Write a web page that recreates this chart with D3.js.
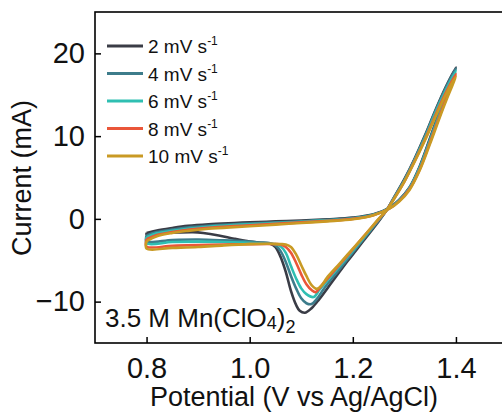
<!DOCTYPE html>
<html>
<head>
<meta charset="utf-8">
<style>
body { margin: 0; background: #fff; }
text { font-family: Arial, "Liberation Sans", sans-serif; fill: #111; }
</style>
</head>
<body>
<div id="chart"></div>
<script src="https://cdn.jsdelivr.net/npm/d3@7"></script>
<script>
// scan rates shown in the legend
var rates = ["2", "4", "6", "8", "10"];
var xTicks = [0.8, 1.0, 1.2, 1.4];
var yTicks = [-10, 0, 10, 20];

// [potential V, current mA], forward scan then reverse scan
var cv2 = [[0.80,-1.7],[0.82,-1.4],[0.85,-1.1],[0.88,-0.85],[0.92,-0.65],[0.97,-0.5],[1.00,-0.42],[1.05,-0.3],[1.10,-0.2],[1.15,-0.05],[1.20,0.15],[1.24,0.55],[1.27,1.3],[1.29,2.3],[1.31,3.8],[1.33,6.4],[1.35,9.8],[1.37,13.3],[1.385,15.9],[1.40,18.3],
  [1.38,15.9],[1.36,13.1],[1.34,10.1],[1.32,7.3],[1.30,4.8],[1.28,2.6],[1.265,1.0],[1.25,-0.3],[1.22,-2.7],[1.19,-5.1],[1.16,-7.6],[1.135,-9.7],[1.12,-10.8],[1.107,-11.35],[1.097,-11.1],[1.09,-10.4],[1.08,-8.7],[1.07,-6.4],[1.06,-4.6],[1.05,-3.4],[1.04,-3.0],[1.02,-2.9],[1.00,-2.75],[0.97,-2.4],[0.94,-2.0],[0.91,-1.7],[0.89,-1.6],[0.86,-1.65],[0.83,-1.75],[0.80,-1.9]];
var cv4 = [[0.80,-2.0],[0.82,-1.6],[0.85,-1.3],[0.88,-1.05],[0.92,-0.85],[0.97,-0.65],[1.00,-0.55],[1.05,-0.42],[1.10,-0.3],[1.15,-0.12],[1.20,0.1],[1.24,0.5],[1.27,1.3],[1.29,2.3],[1.31,3.8],[1.33,6.3],[1.35,9.7],[1.37,13.2],[1.385,15.8],[1.40,18.2],
  [1.38,15.8],[1.36,13.0],[1.34,10.0],[1.32,7.2],[1.30,4.7],[1.28,2.6],[1.265,1.0],[1.25,-0.2],[1.22,-2.5],[1.19,-4.85],[1.17,-6.4],[1.145,-8.35],[1.13,-9.7],[1.12,-10.3],[1.11,-10.2],[1.10,-9.6],[1.09,-8.4],[1.08,-6.9],[1.07,-5.2],[1.06,-3.9],[1.05,-3.2],[1.04,-2.95],[1.02,-2.85],[1.00,-2.75],[0.95,-2.6],[0.90,-2.5],[0.85,-2.55],[0.80,-2.7]];
var cv6 = [[0.80,-2.2],[0.82,-1.75],[0.85,-1.45],[0.88,-1.2],[0.92,-0.95],[0.97,-0.75],[1.00,-0.65],[1.05,-0.5],[1.10,-0.35],[1.15,-0.18],[1.20,0.05],[1.24,0.5],[1.27,1.25],[1.29,2.2],[1.31,3.7],[1.33,6.2],[1.35,9.5],[1.37,12.9],[1.385,15.5],[1.40,17.9],
  [1.38,15.5],[1.36,12.8],[1.34,9.8],[1.32,7.1],[1.30,4.6],[1.28,2.5],[1.265,1.0],[1.25,-0.1],[1.22,-2.35],[1.19,-4.6],[1.17,-6.05],[1.15,-7.5],[1.135,-8.6],[1.124,-9.45],[1.11,-9.1],[1.10,-8.4],[1.09,-7.2],[1.08,-5.7],[1.07,-4.1],[1.06,-3.3],[1.05,-3.05],[1.04,-3.0],[1.00,-2.9],[0.95,-2.8],[0.90,-2.75],[0.85,-2.8],[0.80,-2.95]];
var cv8 = [[0.80,-2.45],[0.82,-1.95],[0.85,-1.6],[0.88,-1.32],[0.92,-1.08],[0.97,-0.88],[1.00,-0.78],[1.05,-0.6],[1.10,-0.42],[1.15,-0.24],[1.20,0.0],[1.24,0.45],[1.27,1.2],[1.29,2.15],[1.31,3.6],[1.33,6.0],[1.35,9.3],[1.37,12.7],[1.385,15.2],[1.40,17.5],
  [1.38,15.2],[1.36,12.5],[1.34,9.6],[1.32,7.0],[1.30,4.5],[1.28,2.45],[1.265,1.0],[1.25,-0.05],[1.22,-2.2],[1.19,-4.4],[1.16,-6.55],[1.14,-8.0],[1.128,-8.85],[1.12,-8.6],[1.11,-7.9],[1.10,-6.7],[1.09,-5.3],[1.08,-4.1],[1.07,-3.4],[1.06,-3.1],[1.05,-3.05],[1.00,-3.05],[0.95,-3.1],[0.90,-3.15],[0.85,-3.25],[0.80,-3.35]];
var cv10 = [[0.80,-2.7],[0.82,-2.1],[0.85,-1.7],[0.88,-1.45],[0.92,-1.2],[0.97,-1.0],[1.00,-0.9],[1.05,-0.7],[1.10,-0.5],[1.15,-0.3],[1.20,-0.05],[1.24,0.45],[1.27,1.2],[1.29,2.1],[1.31,3.5],[1.33,5.9],[1.35,9.1],[1.37,12.5],[1.385,14.9],[1.40,17.2],
  [1.38,15.0],[1.36,12.3],[1.34,9.5],[1.32,6.9],[1.30,4.5],[1.28,2.4],[1.265,1.0],[1.25,0.0],[1.22,-2.2],[1.19,-4.3],[1.17,-5.7],[1.15,-7.1],[1.14,-8.0],[1.13,-8.45],[1.12,-8.0],[1.11,-6.9],[1.10,-5.6],[1.09,-4.3],[1.08,-3.4],[1.07,-3.1],[1.06,-3.05],[1.04,-3.0],[1.00,-3.05],[0.95,-3.2],[0.90,-3.4],[0.85,-3.5],[0.80,-3.6]];

var loops = [cv2, cv4, cv6, cv8, cv10];
var colors = ["#3a3c46", "#3d7c8b", "#2fbfb2", "#ea5639", "#c99a24"];

var width = 502, height = 414;
var svg = d3.select("#chart").append("svg")
    .attr("width", width)
    .attr("height", height);

var x = d3.scaleLinear().domain([0.7, 1.5]).range([95, 507.5]);
var y = d3.scaleLinear().domain([-15, 25]).range([343, 12]);

var line = d3.line()
    .x(function (d) { return x(d[0]); })
    .y(function (d) { return y(d[1]); })
    .curve(d3.curveCatmullRom.alpha(0.5));

// loops, slowest scan first so the 10 mV/s one sits on top
loops.forEach(function (pts, i) {
    svg.append("path")
        .attr("d", line(pts.concat([pts[0]])))
        .attr("fill", "none")
        .attr("stroke", colors[i])
        .attr("stroke-width", 2.6)
        .attr("stroke-linejoin", "round");
});

// frame
svg.append("rect")
    .attr("x", x(0.7)).attr("y", y(25))
    .attr("width", x(1.5) - x(0.7)).attr("height", y(-15) - y(25))
    .attr("fill", "none").attr("stroke", "#000").attr("stroke-width", 1.6);

// axes, ticks point inward
var xAxis = svg.append("g")
    .attr("transform", "translate(0," + y(-15) + ")")
    .call(d3.axisBottom(x).tickValues(xTicks).tickFormat(d3.format(".1f")).tickSizeInner(-6).tickSizeOuter(0).tickPadding(14));
var yAxis = svg.append("g")
    .attr("transform", "translate(" + x(0.7) + ",0)")
    .call(d3.axisLeft(y).tickValues(yTicks).tickSizeInner(-6).tickSizeOuter(0).tickPadding(10));
[xAxis, yAxis].forEach(function (g) {
    g.select(".domain").remove();
    g.selectAll(".tick line").attr("stroke", "#000").attr("stroke-width", 1.5);
    g.selectAll(".tick text").style("font-size", "29px").attr("fill", "#111");
});
yAxis.selectAll(".tick text").attr("x", -10);
xAxis.selectAll(".tick text").attr("dy", "0.71em");

svg.append("text")
    .attr("x", 294).attr("y", 406)
    .attr("text-anchor", "middle")
    .style("font-size", "27px")
    .text("Potential (V vs Ag/AgCl)");

svg.append("text")
    .attr("transform", "translate(22,178) rotate(-90)")
    .attr("text-anchor", "middle")
    .attr("dy", "0.35em")
    .style("font-size", "27px")
    .text("Current (mA)");

// electrolyte label
var lab = svg.append("text")
    .attr("x", 105).attr("y", 327)
    .style("font-size", "26px");
lab.append("tspan").text("3.5 M Mn(ClO");
lab.append("tspan").attr("dy", 2).style("font-size", "18px").text("4");
lab.append("tspan").attr("dy", -2).text(")");
lab.append("tspan").attr("dy", 6).style("font-size", "18px").text("2");

// legend
var leg = svg.append("g");
rates.forEach(function (r, i) {
    var ly = 46 + i * 27.5;
    leg.append("line")
        .attr("x1", 107).attr("x2", 143)
        .attr("y1", ly).attr("y2", ly)
        .attr("stroke", colors[i]).attr("stroke-width", 3);
    var t = leg.append("text")
        .attr("x", 148).attr("y", ly + 7)
        .style("font-size", "19px");
    t.append("tspan").text(r + " mV s");
    t.append("tspan").attr("dy", -8).style("font-size", "12px").text("-1");
});
</script>
</body>
</html>
